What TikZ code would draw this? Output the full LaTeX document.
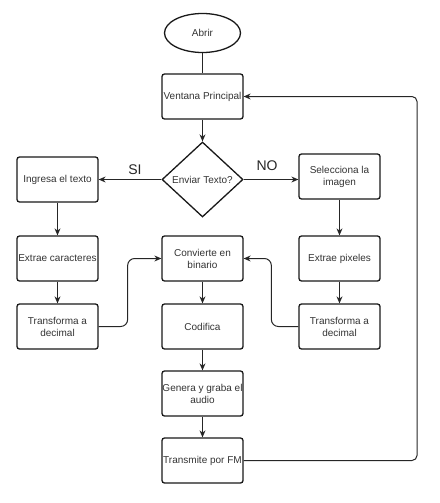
\documentclass[tikz,border=0pt]{standalone}
\usepackage{fontspec}
\setmainfont{Liberation Sans}
\usetikzlibrary{shapes.geometric,arrows.meta}
\begin{document}
\begin{tikzpicture}[x=1pt,y=-1pt,
  every node/.style={font=\fontsize{10}{12}\selectfont, text=black!80},
  procbox/.style={draw=black!90, line width=1.3pt, rounded corners=2.5pt, minimum width=81pt, minimum height=45pt, inner sep=0pt, align=center},
  conn/.style={draw=black!85, line width=1pt},
  arr/.style={conn, -{Stealth[length=7pt,width=6pt]}},
  biglabel/.style={font=\fontsize{14}{16}\selectfont, text=black!85}
]
\useasboundingbox (0,0) rectangle (439,503);
\node[ellipse, draw=black!90, line width=1.3pt, minimum width=76pt, minimum height=39pt, inner sep=0pt] (ab) at (202.5,33) {Abrir};
\node[procbox] (vp) at (202.5,96.5) {Ventana Principal};
\node[diamond, draw=black!90, line width=1.3pt, minimum width=81pt, minimum height=75pt, inner sep=0pt, label={[font=\fontsize{10}{12}\selectfont, text=black!80]center:Enviar Texto?}] (et) at (202.5,179.5) {};
\node[procbox] (it) at (57.5,179.5) {Ingresa el texto};
\node[procbox] (si) at (339.5,176.5) {Selecciona la\\imagen};
\node[procbox] (ec) at (57.5,258.5) {Extrae caracteres};
\node[procbox] (cb) at (202.5,258.5) {Convierte en\\binario};
\node[procbox] (ep) at (339.5,258.5) {Extrae pixeles};
\node[procbox] (tl) at (57.5,326.5) {Transforma a\\decimal};
\node[procbox] (cf) at (202.5,326.5) {Codifica};
\node[procbox] (tr) at (339.5,326.5) {Transforma a\\decimal};
\node[procbox] (ga) at (202.5,393.5) {Genera y graba el\\audio};
\node[procbox] (tf) at (202.5,460.5) {Transmite por FM};
\node[biglabel] (lsi) at (135,170) {SI};
\node[biglabel] (lno) at (267,166) {NO};
\coordinate (rr) at (417,0);

\draw[conn] (ab) -- (vp);
\draw[arr] (vp) -- (et);
\draw[arr] (et.west) -- (it.east |- et.west);
\draw[arr] (et.east) -- (si.west |- et.east);
\draw[arr] (it) -- (ec);
\draw[arr] (ec) -- (tl);
\draw[arr] (si) -- (ep);
\draw[arr] (ep) -- (tr);
\draw[arr] (cb) -- (cf);
\draw[arr] (cf) -- (ga);
\draw[arr] (ga) -- (tf);
\draw[arr, rounded corners=7pt] (tl.east) -- ++(29,0) |- (cb.west);
\draw[arr, rounded corners=7pt] (tr.west) -- ++(-27,0) |- (cb.east);
\draw[arr, rounded corners=5pt] (tf.east) -- (tf.east -| rr) |- (vp.east);
\end{tikzpicture}
\end{document}
